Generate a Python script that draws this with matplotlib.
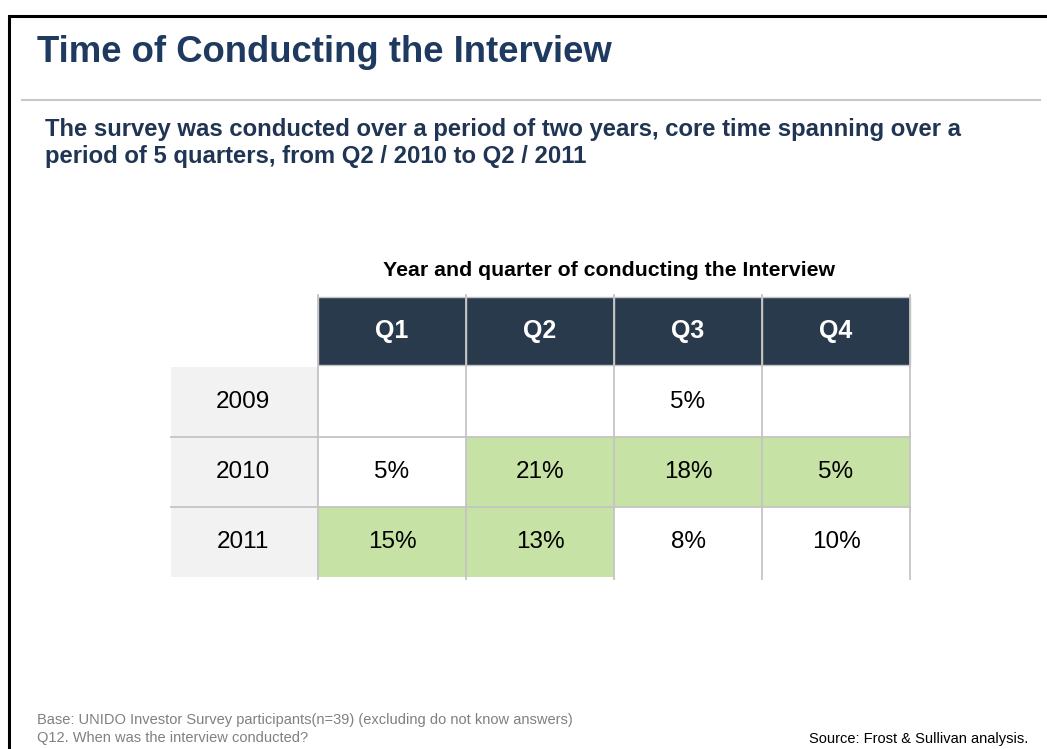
import matplotlib.pyplot as plt
from matplotlib.patches import Rectangle

# data
quarters = ['Q1', 'Q2', 'Q3', 'Q4']
years = ['2009', '2010', '2011']
shares = [['', '', '5%', ''],
          ['5%', '21%', '18%', '5%'],
          ['15%', '13%', '8%', '10%']]
# core period (Q2/2010 - Q2/2011) is shaded green
core = [[0, 0, 0, 0],
        [0, 1, 1, 1],
        [1, 1, 0, 0]]

title = 'Time of Conducting the Interview'
subtitle = ('The survey was conducted over a period of two years, core time spanning over a\n'
            'period of 5 quarters, from Q2 / 2010 to Q2 / 2011')
table_title = 'Year and quarter of conducting the Interview'
base_note = ('Base: UNIDO Investor Survey participants(n=39) (excluding do not know answers)\n'
             'Q12. When was the interview conducted?')
source_note = 'Source: Frost & Sullivan analysis.'

plt.rcParams['font.family'] = ['Liberation Sans', 'DejaVu Sans']

navy = '#1F3A60'
head_col = '#2A3A4D'
green = '#C6E2A5'
yr_col = '#F2F2F2'
grid = '#C4C4C4'

W, H = 1047, 749
fig = plt.figure(figsize=(W / 100, H / 100), dpi=100)
ax = fig.add_axes([0, 0, 1, 1])
ax.set_xlim(0, W)
ax.set_ylim(H, 0)
ax.axis('off')

# slide frame
ax.plot([9, 9, W], [H, 16, 16], color='black', lw=2.2, solid_joinstyle='miter')
ax.plot([22, 1040], [100, 100], color='#C8C8C8', lw=1.5)

ax.text(37, 52, title, fontsize=26.3, fontweight='bold', color=navy,
        va='center', ha='left')
ax.text(45, 143, subtitle, fontsize=17.2, fontweight='bold', color='#1F3553',
        va='center', ha='left', linespacing=1.2)

# table geometry
x0, yw, cw = 171, 147, 148
y0, hh, rh = 297, 68, 70
xt = x0 + yw
ax.text(609, 270, table_title, fontsize=15.3, fontweight='bold', color='black',
        ha='center', va='center')

for j, q in enumerate(quarters):
    ax.add_patch(Rectangle((xt + j * cw, y0), cw, hh, fc=head_col, ec=grid, lw=1))
    ax.text(xt + j * cw + cw / 2, y0 + hh / 2, q, color='white', fontsize=18,
            fontweight='bold', ha='center', va='center')

ry0 = y0 + hh + 2
for i, yr in enumerate(years):
    ry = ry0 + i * rh
    ax.add_patch(Rectangle((x0, ry), yw, rh, fc=yr_col, ec='none'))
    ax.text(x0 + yw * 0.49, ry + rh / 2, yr, fontsize=17.5, ha='center', va='center')
    for j in range(len(quarters)):
        fc = green if core[i][j] else 'white'
        ax.add_patch(Rectangle((xt + j * cw, ry), cw, rh, fc=fc, ec='none'))
        ax.text(xt + j * cw + cw / 2, ry + rh / 2, shares[i][j], fontsize=17.5,
                ha='center', va='center')

# cell borders
yb = ry0 + len(years) * rh
for i in range(1, len(years)):
    ax.plot([x0, xt + len(quarters) * cw], [ry0 + i * rh] * 2, color=grid, lw=1.3)
for j in range(len(quarters) + 1):
    ax.plot([xt + j * cw] * 2, [y0 - 2, yb + 2], color=grid, lw=1.3)

ax.text(37, 729, base_note, fontsize=10.5, color='#808080', ha='left', va='center',
        linespacing=1.35)
ax.text(1028, 739, source_note, fontsize=10.5, color='black', ha='right', va='center')

fig.savefig('out.png', dpi=100)
